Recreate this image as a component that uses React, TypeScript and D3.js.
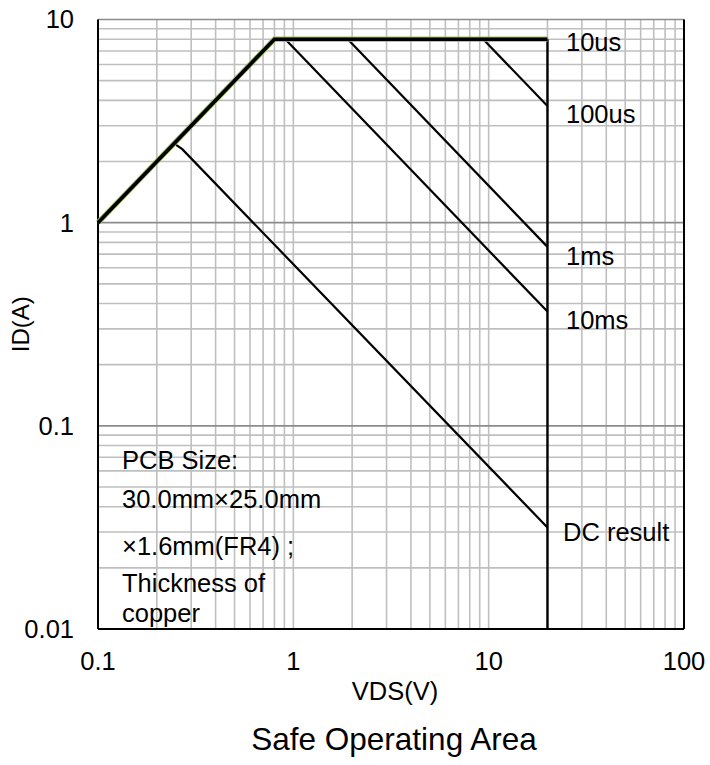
import React from "react";
import * as d3 from "d3";

const xTicks = [0.1, 1, 10, 100];
const xTickLabels = ["0.1", "1", "10", "100"];
const yTicks = [0.01, 0.1, 1, 10];
const yTickLabels = ["0.01", "0.1", "1", "10"];

// Limit line: RDS(on) limit then current limit
const limitLine: [number, number][] = [
  [0.1, 1],
  [0.8, 8],
  [20, 8],
];
const line100us: [number, number][] = [
  [9.375, 8],
  [20, 3.75],
];
const line1ms: [number, number][] = [
  [1.9, 8],
  [20, 0.76],
];
const line10ms: [number, number][] = [
  [0.91, 8],
  [20, 0.365],
];
const lineDC: [number, number][] = [
  [0.25, 2.42],
  [0.27, 2.3],
  [20, 0.0316],
];
const vdsMaxLine: [number, number][] = [
  [20, 8],
  [20, 0.01],
];

const curveLabels = ["10us", "100us", "1ms", "10ms", "DC result"];
const curveLabelY = [8, 3.75, 0.76, 0.365, 0.0316];
const noteLines = [
  "PCB Size:",
  "30.0mm\u00d725.0mm",
  "\u00d71.6mm(FR4) ;",
  "Thickness of",
  "copper",
];

const W = 710;
const H = 765;
const L = 98,
  R = 684,
  T = 19.5,
  B = 629;
const FONT = "'Liberation Sans', Arial, sans-serif";

export default function App() {
  const x = d3.scaleLog().domain([0.1, 100]).range([L, R]);
  const y = d3.scaleLog().domain([0.01, 10]).range([B, T]);
  const line = d3
    .line<[number, number]>()
    .x((d) => x(d[0]))
    .y((d) => y(d[1]));

  const minorX: number[] = [];
  for (let e = -1; e < 2; e++)
    for (let m = 1; m <= 9; m++) minorX.push(m * Math.pow(10, e));
  minorX.push(100);
  const minorY: number[] = [];
  for (let e = -2; e < 1; e++)
    for (let m = 2; m <= 9; m++) minorY.push(m * Math.pow(10, e));

  const labelYOffsets = [12, 17, 18, 17, 14];
  const noteY = [469, 508, 555, 592, 622];

  return (
    <div style={{ position: "absolute", left: 0, top: 0 }}>
      <svg width={W} height={H} style={{ display: "block", background: "#fff" }}>
        {/* vertical grid */}
        {minorX.map((v, i) => (
          <line
            key={"gx" + i}
            x1={x(v)}
            x2={x(v)}
            y1={T}
            y2={B}
            stroke="#bfbfbf"
            strokeWidth={1.6}
          />
        ))}
        {/* horizontal minor grid */}
        {minorY.map((v, i) => (
          <line
            key={"gy" + i}
            x1={L}
            x2={R}
            y1={y(v)}
            y2={y(v)}
            stroke="#bfbfbf"
            strokeWidth={1.6}
          />
        ))}
        {/* horizontal major grid */}
        {[0.1, 1].map((v, i) => (
          <line
            key={"gm" + i}
            x1={L}
            x2={R}
            y1={y(v)}
            y2={y(v)}
            stroke="#8c8c8c"
            strokeWidth={1.6}
          />
        ))}
        {/* top border */}
        <line x1={L} x2={R} y1={T} y2={T} stroke="#8c8c8c" strokeWidth={1.6} />
        {/* axes borders */}
        <line x1={L} x2={L} y1={T} y2={B} stroke="#000" strokeWidth={2} />
        <line x1={R} x2={R} y1={T} y2={B} stroke="#000" strokeWidth={2} />
        <line x1={L} x2={R} y1={B} y2={B} stroke="#000" strokeWidth={2} />

        {/* curves */}
        <path d={line(line100us) || ""} fill="none" stroke="#000" strokeWidth={2.2} />
        <path d={line(line1ms) || ""} fill="none" stroke="#000" strokeWidth={2.2} />
        <path d={line(line10ms) || ""} fill="none" stroke="#000" strokeWidth={2.2} />
        <path d={line(lineDC) || ""} fill="none" stroke="#000" strokeWidth={2.2} />
        <path d={line(vdsMaxLine) || ""} fill="none" stroke="#000" strokeWidth={2.4} />
        <path
          d={line(limitLine) || ""}
          fill="none"
          stroke="#9bbb59"
          strokeWidth={5.2}
          strokeLinejoin="miter"
        />
        <path
          d={line(limitLine) || ""}
          fill="none"
          stroke="#000"
          strokeWidth={3.6}
          strokeLinejoin="miter"
        />

        {/* curve labels */}
        {curveLabels.map((s, i) => (
          <text
            key={"cl" + i}
            x={i === 4 ? 563 : 566}
            y={y(curveLabelY[i]) + labelYOffsets[i]}
            fontFamily={FONT}
            fontSize={25.5}
            fill="#000"
          >
            {s}
          </text>
        ))}

        {/* note */}
        {noteLines.map((s, i) => (
          <text
            key={"n" + i}
            x={122}
            y={noteY[i]}
            fontFamily={FONT}
            fontSize={25.5}
            fill="#000"
          >
            {s}
          </text>
        ))}

        {/* tick labels */}
        {xTicks.map((v, i) => (
          <text
            key={"xt" + i}
            x={x(v)}
            y={670}
            textAnchor="middle"
            fontFamily={FONT}
            fontSize={25.5}
            fill="#000"
          >
            {xTickLabels[i]}
          </text>
        ))}
        {yTicks.map((v, i) => (
          <text
            key={"yt" + i}
            x={74}
            y={y(v)}
            dy="0.35em"
            textAnchor="end"
            fontFamily={FONT}
            fontSize={25.5}
            fill="#000"
          >
            {yTickLabels[i]}
          </text>
        ))}

        {/* axis titles */}
        <text
          x={395}
          y={700}
          textAnchor="middle"
          fontFamily={FONT}
          fontSize={25.5}
          fill="#000"
        >
          VDS(V)
        </text>
        <text
          transform={`translate(29,${(T + B) / 2}) rotate(-90)`}
          textAnchor="middle"
          fontFamily={FONT}
          fontSize={24}
          fill="#000"
        >
          ID(A)
        </text>
        <text
          x={394}
          y={750}
          textAnchor="middle"
          fontFamily={FONT}
          fontSize={31.5}
          fill="#000"
        >
          Safe Operating Area
        </text>
      </svg>
    </div>
  );
}
